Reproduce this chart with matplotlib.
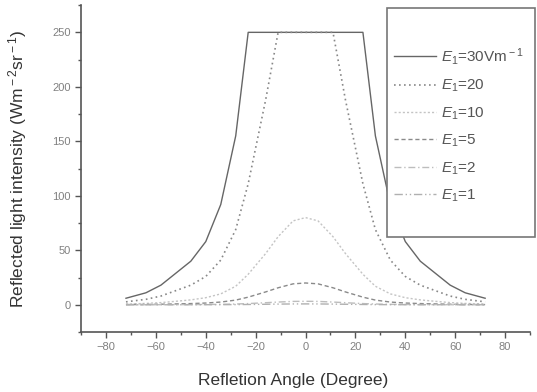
import matplotlib
matplotlib.use("Agg")
import matplotlib.pyplot as plt
from matplotlib.patches import Rectangle
from matplotlib.ticker import MultipleLocator
import numpy as np

plt.rcParams["font.family"] = ["Liberation Sans", "DejaVu Sans"]
plt.rcParams["mathtext.fontset"] = "custom"
plt.rcParams["mathtext.rm"] = "Liberation Sans"
plt.rcParams["mathtext.it"] = "Liberation Sans:italic"

# half profile (0..72 deg), mirrored about 0 below
angle_half = [0, 5, 11, 16, 23, 28, 34, 40, 46, 52, 58, 64, 72]
e30_half = [250, 250, 250, 250, 250, 155, 92, 58, 40, 29, 18, 11, 6]
e20_half = [250, 250, 250, 188, 111, 69, 41, 26, 18, 13, 8, 5, 2.7]
e10_half = [80, 77, 62.5, 47, 28, 17, 10, 6.5, 4.5, 3.2, 2, 1.25, 0.7]
e5_half = [20, 19.2, 15.6, 11.8, 7, 4.3, 2.5, 1.6, 1.1, 0.8, 0.5, 0.3, 0.2]
e2_half = [3.2, 3.1, 2.5, 1.9, 1.1, 0.7, 0.4, 0.26, 0.18, 0.13, 0.08, 0.05, 0.03]
e1_half = [0.8, 0.77, 0.62, 0.47, 0.28, 0.17, 0.1, 0.065, 0.045, 0.032, 0.02, 0.0125, 0.007]

labels = [r"$E_{\rm 1}$=30Vm$^{\rm -1}$", r"$E_{\rm 1}$=20", r"$E_{\rm 1}$=10",
          r"$E_{\rm 1}$=5", r"$E_{\rm 1}$=2", r"$E_{\rm 1}$=1"]


def mirror(half):
    return np.concatenate([half[:0:-1], half])


angles = np.concatenate([-np.array(angle_half[:0:-1]), angle_half])
series = [e30_half, e20_half, e10_half, e5_half, e2_half, e1_half]
styles = [
    dict(color="#666666", ls="-", lw=1.0),
    dict(color="#888888", ls=(0, (1, 2)), lw=1.2),
    dict(color="#c4c4c4", ls=(0, (1.5, 1.5)), lw=1.0),
    dict(color="#8a8a8a", ls=(0, (3, 2)), lw=1.0),
    dict(color="#bdbdbd", ls=(0, (5, 2, 1, 2)), lw=1.0),
    dict(color="#b0b0b0", ls=(0, (6, 2, 1, 2, 1, 2)), lw=1.0),
]

fig = plt.figure(figsize=(5.37, 3.92), dpi=100)
ax = fig.add_axes([0.151, 0.153, 0.836, 0.834])

for vals, lab, st in zip(series, labels, styles):
    ax.plot(angles, mirror(vals), label=lab, **st)

ax.set_xlim(-90, 90)
ax.set_ylim(-25, 275)
ax.set_xticks(range(-80, 81, 20))
ax.set_yticks(range(0, 251, 50))
ax.xaxis.set_minor_locator(MultipleLocator(10))
ax.yaxis.set_minor_locator(MultipleLocator(25))
ax.tick_params(which="major", direction="out", length=4, width=1, colors="#555555",
               labelcolor="#808080", labelsize=8)
ax.tick_params(which="minor", direction="out", length=2.5, width=1, colors="#555555")

for s in ("top", "right"):
    ax.spines[s].set_visible(False)
for s in ("left", "bottom"):
    ax.spines[s].set_color("#555555")
    ax.spines[s].set_linewidth(1.2)

ax.set_xlabel("Refletion Angle (Degree)", fontsize=12.5, color="#333333")
ax.set_ylabel(r"Reflected light intensity (Wm$^{\rm -2}$sr$^{\rm -1}$)", fontsize=12.5,
              color="#333333")
ax.xaxis.set_label_coords(0.472, -0.125)
ax.yaxis.set_label_coords(-0.115, 0.5)

# legend box drawn separately so the padding can match the original
box = Rectangle((0.681, 0.29), 0.33, 0.701, transform=ax.transAxes, fill=True,
                facecolor="white", edgecolor="#777777", lw=1.2, clip_on=False, zorder=4)
ax.add_patch(box)
leg = ax.legend(loc="upper left", bbox_to_anchor=(0.697, 0.875), frameon=False,
                fontsize=11, handlelength=2.75, handletextpad=0.3, labelspacing=0.72,
                borderpad=0, borderaxespad=0)
leg.set_zorder(5)
for t in leg.get_texts():
    t.set_color("#555555")

fig.savefig("out.png", dpi=100)
